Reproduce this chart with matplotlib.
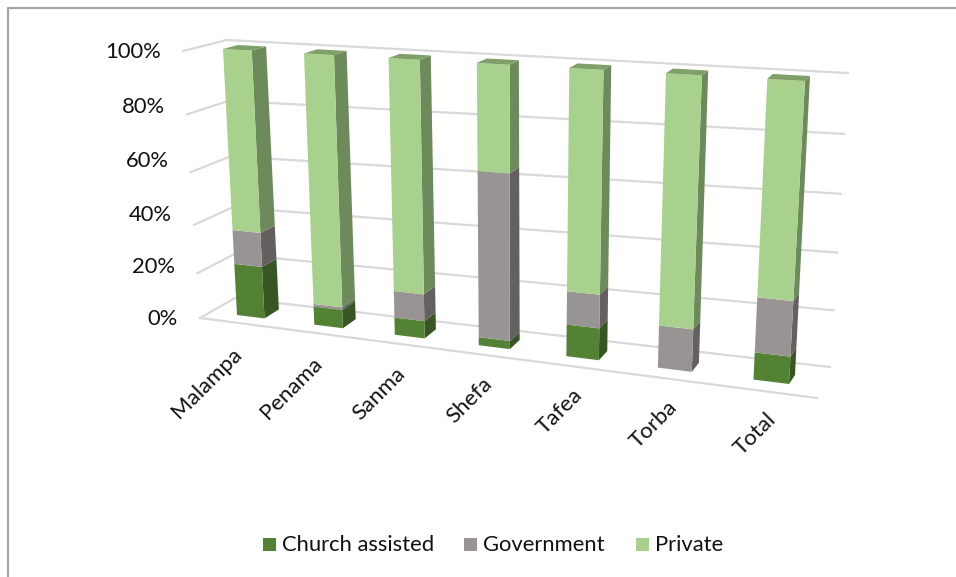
import numpy as np
import matplotlib
matplotlib.use("Agg")
import matplotlib.pyplot as plt
from matplotlib.patches import Polygon, Rectangle

# Stacked shares (percent) per province
provinces = ["Malampa", "Penama", "Sanma", "Shefa", "Tafea", "Torba", "Total"]
church = [20, 7, 6.5, 3, 11.5, 0, 9.5]
government = [13, 1, 10, 60, 12, 15, 19]
private = [67, 92, 83.5, 37, 76.5, 85, 71.5]
series_names = ["Church assisted", "Government", "Private"]
value_ticks = [0, 20, 40, 60, 80, 100]

front_colors = ["#548235", "#989494", "#a9d18e"]
side_colors = ["#375623", "#646060", "#6d8a5b"]
top_colors = ["#476f2c", "#807c7c", "#7fa068"]
GRID = "#d9d9d9"
FONT = ["Lato", "DejaVu Sans"]


def homography(src, dst):
    """Solve the plane projection taking four src points to four dst points."""
    rows, rhs = [], []
    for (x, y), (u, v) in zip(src, dst):
        rows.append([x, y, 1, 0, 0, 0, -u * x, -u * y])
        rows.append([0, 0, 0, x, y, 1, -v * x, -v * y])
        rhs += [u, v]
    h = np.linalg.solve(np.array(rows, float), np.array(rhs, float))
    m = np.append(h, 1).reshape(3, 3)

    def apply(x, y):
        p = m @ np.array([x, y, 1.0])
        return p[0] / p[2], p[1] / p[2]

    return apply


bar_width = 0.36
x_lo, x_hi = 0.5 - bar_width / 2, 6.5 + bar_width / 2
plane_src = [(x_lo, 0), (x_lo, 100), (x_hi, 0), (x_hi, 100)]
bar_front = homography(plane_src, [(237, 315), (223, 49), (789, 384), (805, 81)])
bar_back = homography(plane_src, [(252, 306), (238, 45), (795, 375), (810, 76)])
back_wall = homography([(0, 0), (0, 100), (7, 0), (7, 100)],
                       [(235, 298), (227, 40), (830, 367), (848, 73)])
side_wall = homography([(0, 0), (0, 100), (1, 0), (1, 100)],
                       [(200, 318), (183, 51), (235, 298), (227, 40)])

fig = plt.figure(figsize=(9.56, 5.77), dpi=100)
ax = fig.add_axes([0, 0, 1, 1])
ax.set_xlim(0, 956)
ax.set_ylim(577, 0)
ax.axis("off")

# Chart frame
ax.plot([8, 8, 956], [577, 8, 8], color="#a6a6a6", lw=1.6, zorder=0)

# Gridlines on the side wall and back wall, then the front floor edge
for v in value_ticks:
    a, b = side_wall(0, v), side_wall(1, v)
    c = back_wall(7, v)
    ax.plot([a[0], b[0], c[0]], [a[1], b[1], c[1]], color=GRID, lw=1.6, zorder=1)
floor_a, floor_b = side_wall(0, 0), (817, 398)
ax.plot([floor_a[0], floor_b[0]], [floor_a[1], floor_b[1]], color=GRID, lw=1.6, zorder=1)

# Value axis labels follow the slanted front edge of the side wall
for v, y in zip(value_ticks, [319, 267, 215, 161, 107, 52]):
    edge_x, _ = side_wall(0, v)
    ax.text(edge_x - 22, y, f"{v}%", ha="right", va="center", fontsize=15.8,
            family=FONT, color="#111111")

# Stacked boxes: side face, top face, front face for every segment
for i in range(len(provinces)):
    left, right = i + 0.5 - bar_width / 2, i + 0.5 + bar_width / 2
    base = 0.0
    stack = [church[i], government[i], private[i]]
    for k, share in enumerate(stack):
        if share <= 0:
            continue
        top = base + share
        ax.add_patch(Polygon([bar_front(right, base), bar_back(right, base),
                              bar_back(right, top), bar_front(right, top)],
                             color=side_colors[k], lw=0, zorder=3))
        ax.add_patch(Polygon([bar_front(left, base), bar_front(right, base),
                              bar_front(right, top), bar_front(left, top)],
                             color=front_colors[k], lw=0, zorder=4))
        base = top
    ax.add_patch(Polygon([bar_front(left, base), bar_front(right, base),
                          bar_back(right, base), bar_back(left, base)],
                         color=top_colors[2], lw=0, zorder=4))

# Category labels, rotated along the floor
for i, name in enumerate(provinces):
    px, py = bar_front(i + 0.5, 0)
    ax.text(px - 19 + 2.2 * i, py + 27, name, rotation=45, rotation_mode="anchor",
            ha="right", va="top", fontsize=16, family=FONT, color="#111111")

# Legend row
legend_x = [263, 464, 636]
for name, color, x in zip(series_names, front_colors, legend_x):
    ax.add_patch(Rectangle((x, 538), 13, 13, color=color, lw=0))
    ax.text(x + 19.5, 545, name, ha="left", va="center", fontsize=15.8,
            family=FONT, color="#111111")

fig.savefig("out.png", dpi=100)
